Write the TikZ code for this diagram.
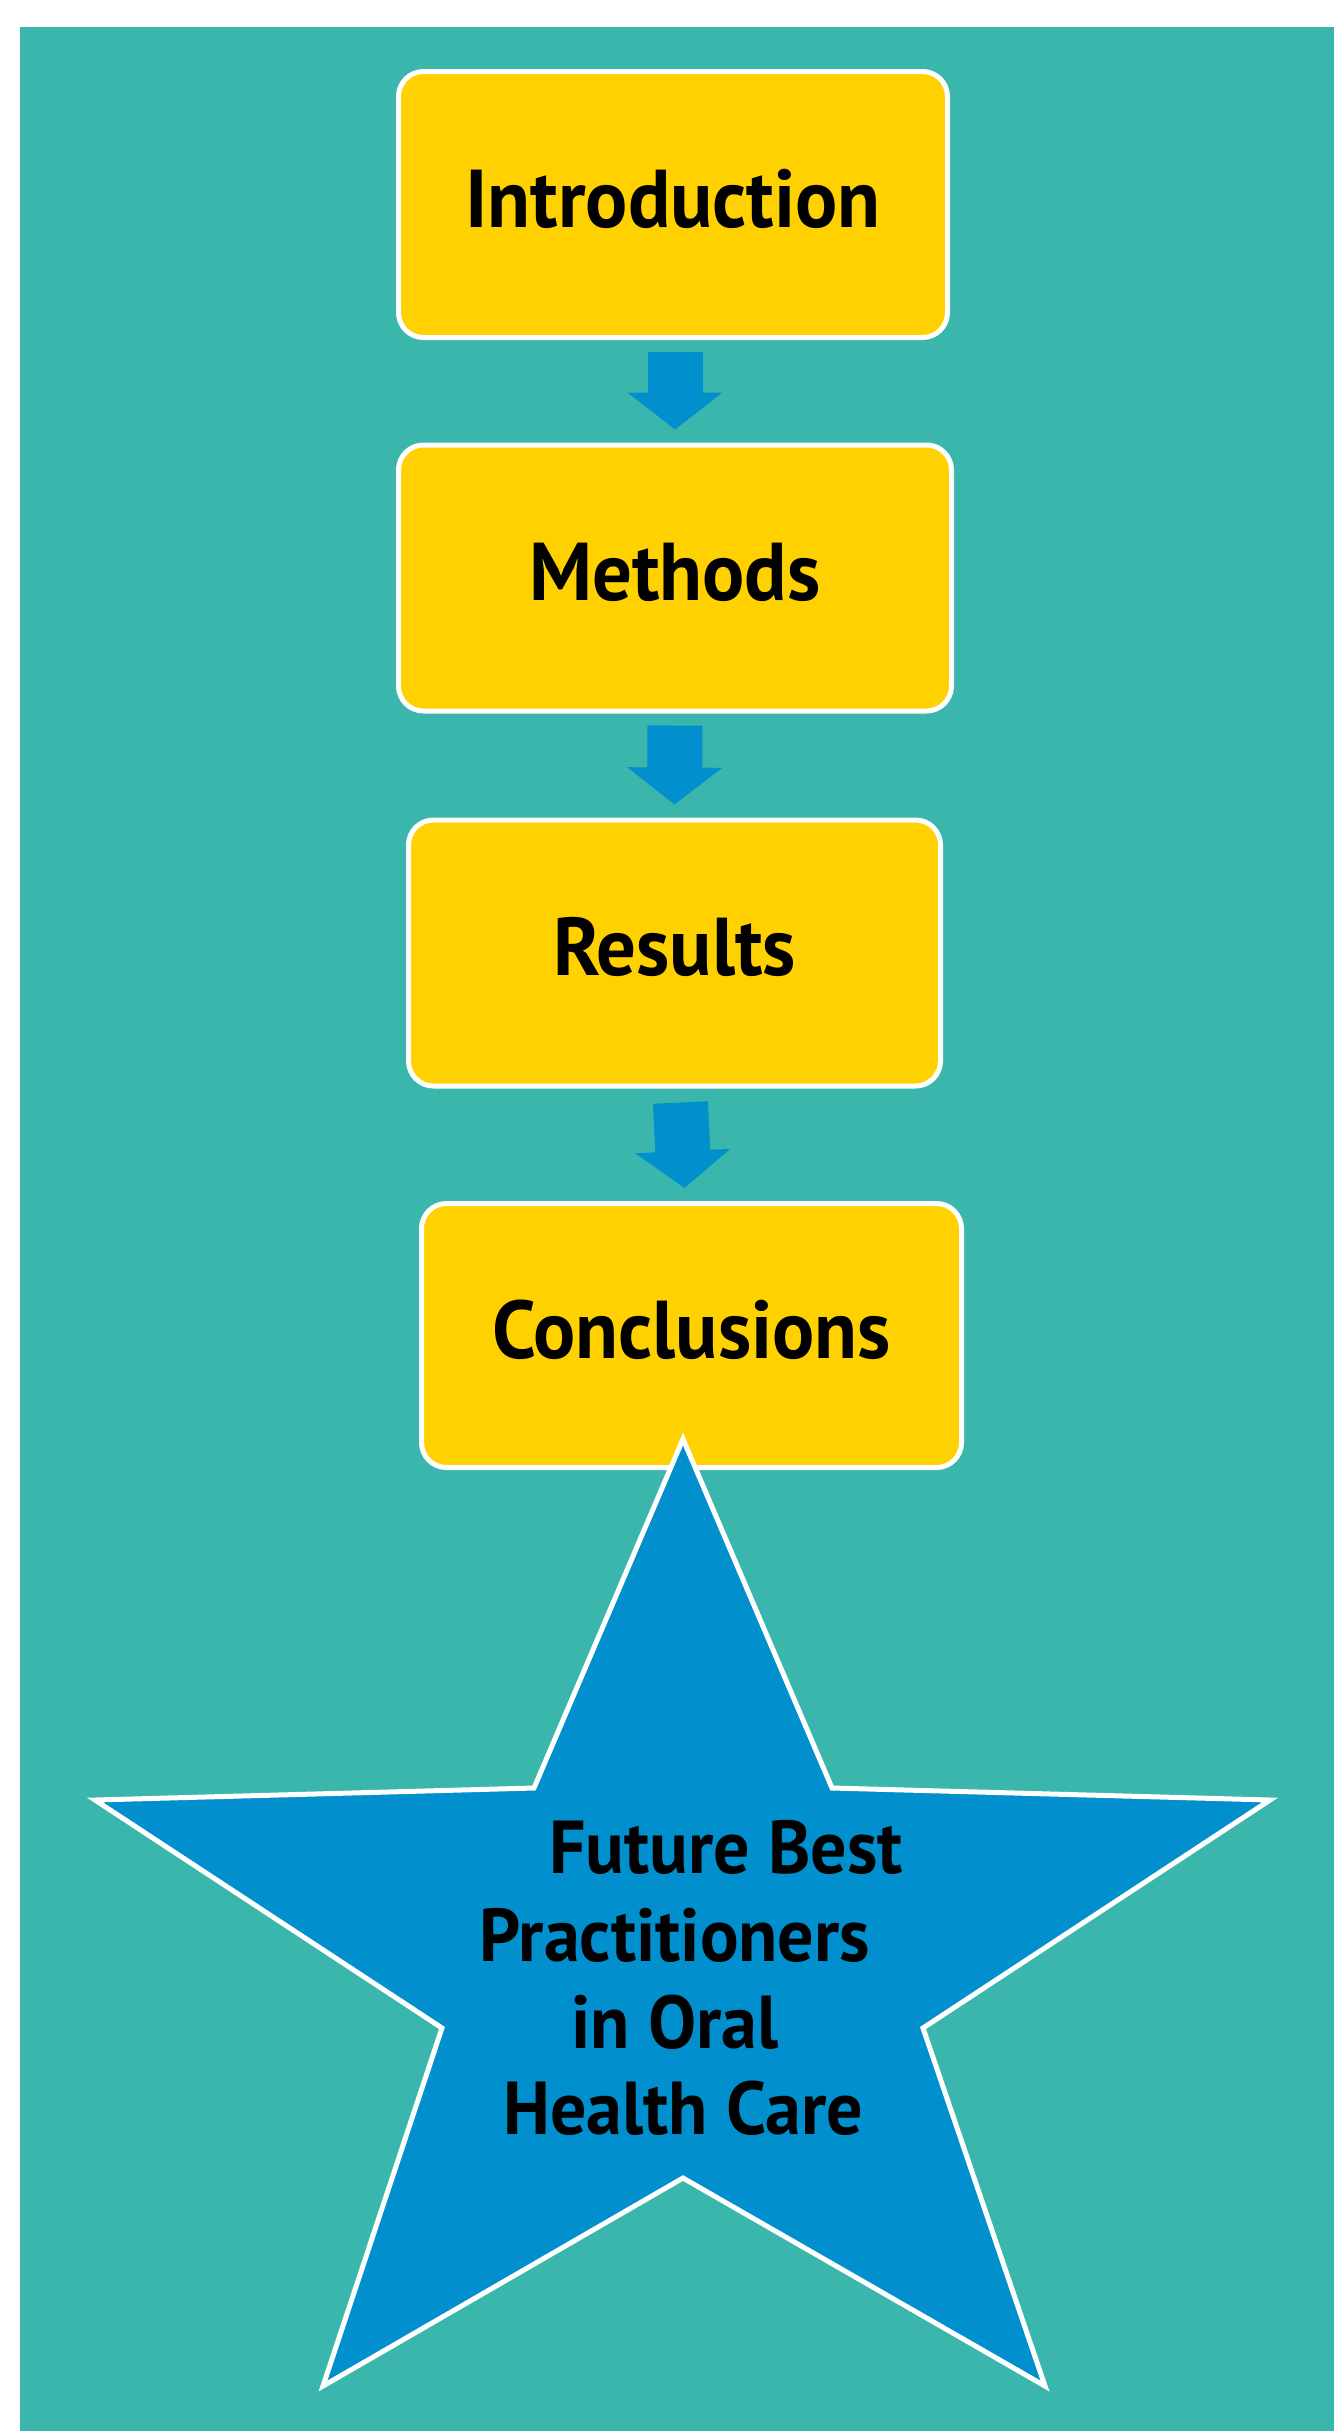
\documentclass[tikz,border=0pt]{standalone}
\usepackage{fontspec}
\setmainfont{PT Sans}
\newfontfamily\lblfont{PT Sans}[FakeStretch=0.96]
\usetikzlibrary{arrows.meta}
\definecolor{bgteal}{RGB}{58,182,172}
\definecolor{boxyellow}{RGB}{255,209,0}
\definecolor{arrowblue}{RGB}{2,143,205}
\tikzset{
  stagebox/.style={rectangle, rounded corners=25pt, fill=boxyellow, draw=white, line width=5pt,
    minimum height=266pt, inner sep=0pt, text height=58pt, text depth=13pt,
    font=\lblfont\bfseries\fontsize{82}{90}\selectfont, text=black},
  flowarrow/.style={draw=arrowblue, line width=55pt, line cap=butt,
    -{Triangle[length=37pt, width=93pt, fill=arrowblue]}},
  starshape/.style={fill=arrowblue, draw=white, line width=5pt, line join=miter},
  startext/.style={anchor=base, inner sep=0pt, font=\lblfont\bfseries\fontsize{75}{80}\selectfont, text=black}
}
\begin{document}
\begin{tikzpicture}[x=1pt, y=-1pt]
\useasboundingbox (0,0) rectangle (1334,2431);
\fill[white] (0,0) rectangle (1334,2431);
\fill[bgteal] (20,27) rectangle (1334,2431);

\node[stagebox, minimum width=549pt] (intro) at (673,204.5) {Introduction};
\node[stagebox, minimum width=553pt] (methods) at (675,578) {Methods};
\node[stagebox, minimum width=532pt] (results) at (674.5,953) {Results};
\node[stagebox, minimum width=540pt, minimum height=264pt] (concl) at (691.5,1335.5) {Conclusions};

\draw[flowarrow] ([xshift=2pt,yshift=-12pt]intro.south) -- ([yshift=13pt]methods.north);
\draw[flowarrow] ([yshift=-12pt]methods.south) -- ([yshift=13pt]results.north);
\draw[flowarrow] ([xshift=6pt,yshift=-14pt]results.south) -- ([xshift=-7pt,yshift=13pt]concl.north);

\draw[starshape] (683,1439) -- (534,1788) -- (95,1800) -- (442,2028) -- (323,2386)
  -- (683,2178) -- (1045,2386) -- (923,2028) -- (1270,1800) -- (832,1788) -- cycle;

\node[startext] (s1) at (726,1873) {Future Best};
\node[startext] (s2) at (675,1961) {Practitioners};
\node[startext] (s3) at (675,2048) {in Oral};
\node[startext] (s4) at (683.5,2134) {Health Care};
\end{tikzpicture}
\end{document}
